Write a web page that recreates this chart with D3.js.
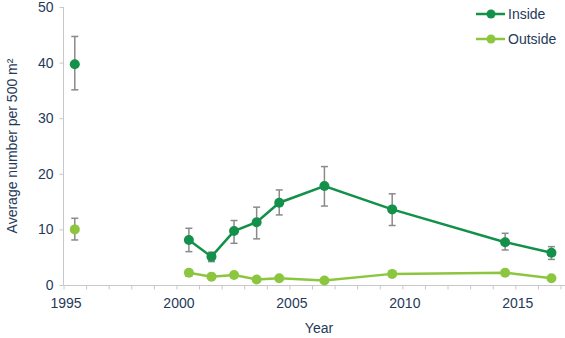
<!DOCTYPE html>
<html><head><meta charset="utf-8">
<script src="https://cdn.jsdelivr.net/npm/d3@7"></script>
<style>
body{margin:0;background:#fff;}
text{font-family:"Liberation Sans",Arial,sans-serif;fill:#1f3a5a;}
</style></head>
<body><svg id="c" width="565" height="338"></svg>
<script>
const years = [1995.5, 2000.55, 2001.55, 2002.55, 2003.55, 2004.55, 2006.55, 2009.55, 2014.55, 2016.6];
const insideMean = [39.7, 8.1, 5.1, 9.7, 11.3, 14.8, 17.8, 13.6, 7.7, 5.8];
const insideLow  = [35.1, 6.0, 4.2, 7.5, 8.3, 12.6, 14.2, 10.7, 6.3, 4.6];
const insideHigh = [44.7, 10.2, 5.9, 11.6, 14.0, 17.1, 21.3, 16.4, 9.3, 6.9];
const outsideMean = [10.0, 2.2, 1.5, 1.8, 1.0, 1.2, 0.8, 2.0, 2.2, 1.2];
const outsideLow  = [8.1, 1.6, 1.2, 1.4, 0.7, 0.9, 0.6, 1.7, 1.9, 0.9];
const outsideHigh = [12.0, 2.7, 1.8, 2.2, 1.3, 1.5, 1.0, 2.3, 2.5, 1.5];
const xTicks = [1995, 2000, 2005, 2010, 2015];
const yTicks = [0, 10, 20, 30, 40, 50];
const seriesNames = ["Inside", "Outside"];
const seriesColors = ["#13914a", "#8cc63f"];

const svg = d3.select("#c");
const x = d3.scaleLinear().domain([1995, 2017.2]).range([63.5, 565]);
const y = d3.scaleLinear().domain([0, 50]).range([285, 7]);

// y axis
const ya = svg.append("g").attr("transform","translate(63.5,0)")
  .call(d3.axisLeft(y).tickValues(yTicks).tickSize(4).tickPadding(6).tickFormat(d3.format("d")));
ya.select(".domain").attr("stroke","#c8c8c8").attr("d","M0,7V285");
ya.selectAll(".tick line").attr("stroke","#c8c8c8");
ya.selectAll("text").style("font-size","14px").attr("fill","#1f3a5a");

// x axis
const xa = svg.append("g").attr("transform","translate(0,285.5)")
  .call(d3.axisBottom(x).tickValues(d3.range(1995, 2018)).tickSize(4).tickPadding(9)
    .tickFormat(d => xTicks.includes(d) ? d : ""));
xa.select(".domain").attr("stroke","#c8c8c8").attr("d","M63.5,0H565");
xa.selectAll(".tick line").attr("stroke","#c8c8c8");
xa.selectAll("text").style("font-size","14px").attr("fill","#1f3a5a").attr("dx","2");

// axis titles
svg.append("text").attr("transform","translate(17,146) rotate(-90)")
  .attr("text-anchor","middle").style("font-size","14px").text("Average number per 500 m²");
svg.append("text").attr("x",319).attr("y",333).attr("text-anchor","middle")
  .style("font-size","14px").text("Year");

const series = [
  {mean: outsideMean, low: outsideLow, high: outsideHigh, color: seriesColors[1]},
  {mean: insideMean, low: insideLow, high: insideHigh, color: seriesColors[0]}
];
const line = d3.line().x(d => x(d.yr)).y(d => y(d.v));

series.forEach(s => {
  const pts = years.map((yr, i) => ({yr, v: s.mean[i], lo: s.low[i], hi: s.high[i]}));
  const eb = svg.append("g").attr("stroke","#8a8a8a").attr("stroke-width",1.5);
  pts.forEach(p => {
    eb.append("line").attr("x1",x(p.yr)).attr("x2",x(p.yr)).attr("y1",y(p.lo)).attr("y2",y(p.hi));
    eb.append("line").attr("x1",x(p.yr)-3.5).attr("x2",x(p.yr)+3.5).attr("y1",y(p.lo)).attr("y2",y(p.lo));
    eb.append("line").attr("x1",x(p.yr)-3.5).attr("x2",x(p.yr)+3.5).attr("y1",y(p.hi)).attr("y2",y(p.hi));
  });
  svg.append("path").datum(pts.slice(1)).attr("d",line).attr("fill","none")
    .attr("stroke",s.color).attr("stroke-width",2.5);
  svg.selectAll(null).data(pts).enter().append("circle")
    .attr("cx",d => x(d.yr)).attr("cy",d => y(d.v)).attr("r",5).attr("fill",s.color);
});

// legend
const lg = svg.append("g");
seriesNames.forEach((n, i) => {
  const yy = 14 + i * 25;
  lg.append("line").attr("x1",476).attr("x2",505).attr("y1",yy).attr("y2",yy)
    .attr("stroke",seriesColors[i]).attr("stroke-width",2.5);
  lg.append("circle").attr("cx",491).attr("cy",yy).attr("r",4.5).attr("fill",seriesColors[i]);
  lg.append("text").attr("x",508).attr("y",yy+5).style("font-size","14px").text(n);
});
</script></body></html>
